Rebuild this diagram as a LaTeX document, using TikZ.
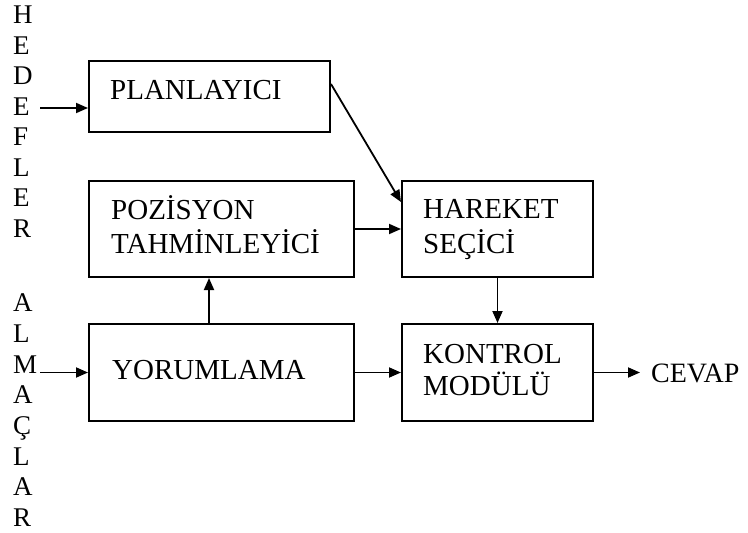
\documentclass[tikz,border=0pt]{standalone}
\usepackage{fontspec}
\setmainfont{Liberation Serif}
\usetikzlibrary{arrows.meta,calc}
\begin{document}
\begin{tikzpicture}[x=1pt,y=-1pt,
  block/.style={draw,line width=2pt,inner sep=0pt,minimum width=#1},
  boxtext/.style={anchor=base west,inner sep=0pt,font=\fontsize{29}{33}\selectfont},
  sidetext/.style={anchor=base west,inner sep=0pt,font=\fontsize{27}{30}\selectfont},
  conn/.style={line width=1.8pt,-{Triangle[length=12pt,width=10pt]}}]
\useasboundingbox (0,0) rectangle (748,533);

% blocks
\node[block=241pt,minimum height=71pt] (plan) at (209.5,96.5) {};
\node[block=265pt,minimum height=96pt] (poz)  at (221.5,229) {};
\node[block=191pt,minimum height=96pt] (har)  at (497.5,229) {};
\node[block=265pt,minimum height=97pt] (yor)  at (221.5,372.5) {};
\node[block=191pt,minimum height=97pt] (kon)  at (497.5,372.5) {};

% block captions
\node[boxtext] (planA) at (110,99)  {PLANLAYICI};
\node[boxtext] (pozA)  at (111,219) {POZİSYON};
\node[boxtext] (pozB)  at (111,253) {TAHMİNLEYİCİ};
\node[boxtext] (harA)  at (423,218) {HAREKET};
\node[boxtext] (harB)  at (423,253) {SEÇİCİ};
\node[boxtext] (yorA)  at (112,379) {YORUMLAMA};
\node[boxtext] (konA)  at (423,363) {KONTROL};
\node[boxtext] (konB)  at (423,395) {MODÜLÜ};
\node[anchor=base west,inner sep=0pt,font=\fontsize{28}{32}\selectfont] (cevap) at (651,382) {CEVAP};

% vertical input labels
\foreach \l [count=\i] in {H,E,D,E,F,L,E,R}
  \node[sidetext] (hed\i) at (13,{23.5+30.5*(\i-1)}) {\l};
\foreach \l [count=\i] in {A,L,M,A,Ç,L,A,R}
  \node[sidetext] (alm\i) at (13,{311.7+30.7*(\i-1)}) {\l};

% free ends of the input and output connectors
\coordinate (hin)  at (40,108);
\coordinate (ain)  at (40,372.5);
\coordinate (cout) at (640,372.5);

% connectors (yshift is in page units, so downward is negative)
\draw[conn] (hin) -- (plan.west |- hin);
\draw[conn] (ain) -- (yor.west);
\draw[conn] ([yshift=-24pt]plan.north east) -- ([yshift=-22pt]har.north west);
\draw[conn] (poz.east) -- (har.west);
\draw[conn] ([xshift=-12.5pt]yor.north) -- ([xshift=-12.5pt]poz.south);
\draw[conn] (har.south) -- (kon.north);
\draw[conn] (yor.east) -- (kon.west);
\draw[conn] (kon.east) -- (cout);
\end{tikzpicture}
\end{document}
